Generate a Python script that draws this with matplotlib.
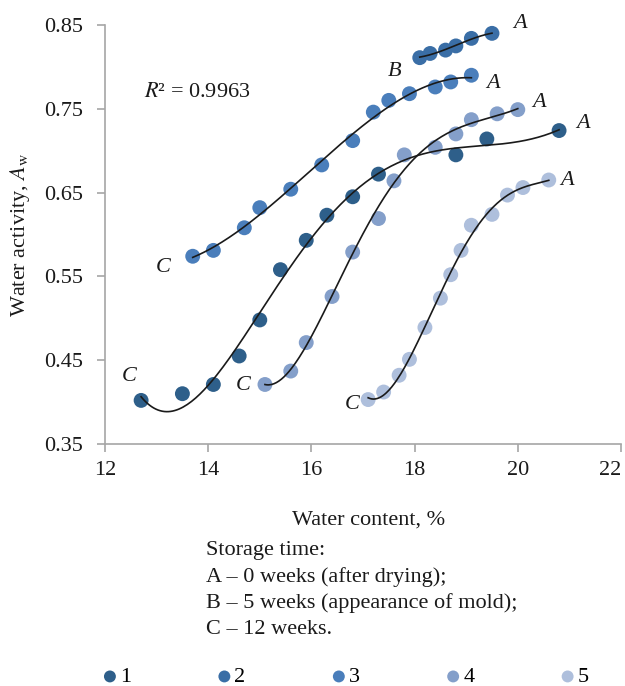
import numpy as np
import matplotlib
matplotlib.use("Agg")
import matplotlib.pyplot as plt

plt.rcParams['font.family'] = ['Liberation Serif', 'DejaVu Serif']
plt.rcParams['mathtext.fontset'] = 'stix'

# water content (%) and water activity for the five samples
x1 = [12.7, 13.5, 14.1, 14.6, 15.0, 15.4, 15.9, 16.3, 16.8, 17.3, 18.8, 19.4, 20.8]
y1 = [0.402, 0.410, 0.421, 0.455, 0.498, 0.558, 0.593, 0.623, 0.645, 0.672, 0.695, 0.714, 0.724]

x2 = [18.1, 18.3, 18.6, 18.8, 19.1, 19.5]
y2 = [0.811, 0.816, 0.820, 0.825, 0.834, 0.840]

x3 = [13.7, 14.1, 14.7, 15.0, 15.6, 16.2, 16.8, 17.2, 17.5, 17.9, 18.4, 18.7, 19.1]
y3 = [0.574, 0.581, 0.608, 0.632, 0.654, 0.683, 0.712, 0.746, 0.760, 0.768, 0.776, 0.782, 0.790]

x4 = [15.1, 15.6, 15.9, 16.4, 16.8, 17.3, 17.6, 17.8, 18.4, 18.8, 19.1, 19.6, 20.0]
y4 = [0.421, 0.437, 0.471, 0.526, 0.579, 0.619, 0.664, 0.695, 0.704, 0.720, 0.737, 0.744, 0.749]

x5 = [17.1, 17.4, 17.7, 17.9, 18.2, 18.5, 18.7, 18.9, 19.1, 19.5, 19.8, 20.1, 20.6]
y5 = [0.403, 0.412, 0.432, 0.451, 0.489, 0.524, 0.552, 0.581, 0.611, 0.624, 0.647, 0.656, 0.665]

series_names = ['1', '2', '3', '4', '5']
colors = ['#2e5f8a', '#3a6ea6', '#4a7ebb', '#849fca', '#aebfdc']
degrees = [5, 3, 3, 5, 4]

fig = plt.figure(figsize=(6.25, 6.86), dpi=100)
ax = fig.add_axes([0.168, 0.3528, 0.8256, 0.6108])

handles = []
for xs, ys, name, col, deg in zip([x1, x2, x3, x4, x5], [y1, y2, y3, y4, y5],
                                  series_names, colors, degrees):
    h = ax.scatter(xs, ys, s=115, color=col, edgecolors='none', label=name, zorder=2)
    handles.append(h)
    # polynomial trend line
    p = np.polynomial.Polynomial.fit(xs, ys, deg)
    xx = np.linspace(min(xs), max(xs), 200)
    ax.plot(xx, p(xx), color='#1a1a1a', lw=1.2, zorder=3)

ax.set_xlim(12, 22)
ax.set_ylim(0.35, 0.85)
ax.set_xticks([12, 14, 16, 18, 20, 22])
ax.set_yticks([0.35, 0.45, 0.55, 0.65, 0.75, 0.85])
ax.set_yticklabels(['0.35', '0.45', '0.55', '0.65', '0.75', '0.85'])
for s in ['top', 'right']:
    ax.spines[s].set_visible(False)
for s in ['left', 'bottom']:
    ax.spines[s].set_color('#a6a6a6')
    ax.spines[s].set_linewidth(1.2)
ax.tick_params(axis='both', colors='#a6a6a6', labelcolor='#1a1a1a',
               labelsize=16, length=6, width=1.2, direction='out')
ax.tick_params(axis='x', pad=6)
ax.tick_params(axis='y', pad=10)
# last x label squeezed inside the figure edge, as in the original
ax.get_xticklabels()[-1].set_horizontalalignment('right')

# curve labels
tkw = dict(fontsize=16, style='italic', ha='center', va='center', color='#1a1a1a')
ax.text(20.04, 0.852, 'A', clip_on=False, **tkw)
ax.text(17.62, 0.794, 'B', **tkw)
ax.text(19.52, 0.780, 'A', **tkw)
ax.text(20.41, 0.758, 'A', **tkw)
ax.text(21.26, 0.733, 'A', **tkw)
ax.text(20.95, 0.664, 'A', **tkw)
ax.text(13.12, 0.561, 'C', **tkw)
ax.text(12.47, 0.431, 'C', **tkw)
ax.text(14.67, 0.420, 'C', **tkw)
ax.text(16.79, 0.397, 'C', **tkw)
ax.text(13.78, 0.769, r'$R$² = 0.9963', fontsize=16, ha='center', va='center', color='#1a1a1a')

W, H = 625, 686
fig.text(20 / W, 1 - 235 / H, r'Water activity, $A_\mathrm{w}$', rotation=90,
         fontsize=16, ha='center', va='center', color='#1a1a1a')
fig.text(369 / W, 1 - 520 / H, 'Water content, %', fontsize=16,
         ha='center', va='center', color='#1a1a1a')

notes = ['Storage time:',
         'A – 0 weeks (after drying);',
         'B – 5 weeks (appearance of mold);',
         'C – 12 weeks.']
for i, line in enumerate(notes):
    fig.text(206 / W, 1 - (551 + 26 * i) / H, line, fontsize=16,
             ha='left', va='center', color='#1a1a1a')

fig.legend(handles=handles, labels=series_names, loc='center',
           bbox_to_anchor=(346 / W, 1 - 677 / H), ncol=5, frameon=False,
           fontsize=16, handlelength=0.6, handletextpad=0.15,
           columnspacing=3.9, markerscale=0.8, borderpad=0)

fig.savefig('out.png', dpi=100)
